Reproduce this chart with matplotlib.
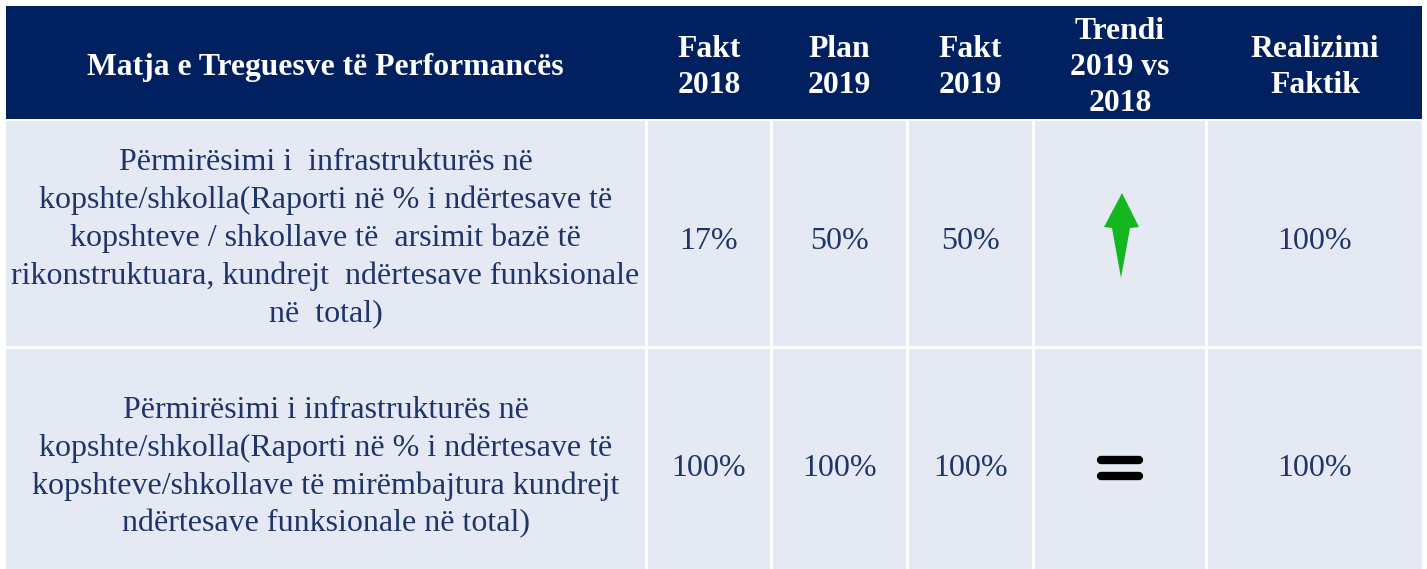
import matplotlib
matplotlib.use("Agg")
import matplotlib.pyplot as plt
from matplotlib.patches import Rectangle, Polygon

# ---- data ----
headers = ["Matja e Treguesve të Performancës", "Fakt\n2018", "Plan\n2019",
           "Fakt\n2019", "Trendi\n2019 vs\n2018", "Realizimi\nFaktik"]
indicators = [
    "Përmirësimi i  infrastrukturës në\nkopshte/shkolla(Raporti në % i ndërtesave të\n"
    "kopshteve / shkollave të  arsimit bazë të\nrikonstruktuara, kundrejt  ndërtesave funksionale\nnë  total)",
    "Përmirësimi i infrastrukturës në\nkopshte/shkolla(Raporti në % i ndërtesave të\n"
    "kopshteve/shkollave të mirëmbajtura kundrejt\nndërtesave funksionale në total)",
]
fakt_2018 = ["17%", "100%"]
plan_2019 = ["50%", "100%"]
fakt_2019 = ["50%", "100%"]
trend = ["up", "equal"]
realizimi = ["100%", "100%"]

# ---- layout ----
W, H = 1427, 569
col_edges = [(6, 645), (648, 770), (773, 906), (909, 1032), (1035, 1205), (1208, 1422)]
header_y = (6, 119)
row_y = [(121, 346), (349, 569)]
row_cy = [238, 467]
val_cy = [241, 468]
HEAD_BG = "#002060"
CELL_BG = "#E5E9F4"
BODY_TXT = "#1F3468"
FONT = "Liberation Serif"

fig = plt.figure(figsize=(W / 100, H / 100), dpi=100)
ax = fig.add_axes([0, 0, 1, 1])
ax.set_xlim(0, W)
ax.set_ylim(H, 0)
ax.axis("off")

# header
ax.add_patch(Rectangle((col_edges[0][0], header_y[0]), col_edges[-1][1] - col_edges[0][0],
                       header_y[1] - header_y[0], color=HEAD_BG, lw=0))
head_line = 36
for (x0, x1), h in zip(col_edges, headers):
    lines = h.split("\n")
    cy = (header_y[0] + header_y[1]) / 2 + 5
    n = len(lines)
    for i, ln in enumerate(lines):
        y = cy + (i - (n - 1) / 2) * head_line
        ax.text((x0 + x1) / 2, y, ln, ha="center", va="center", color="white",
                fontsize=22.8, fontweight="bold", family=FONT)

# body
body_line = 37.75
for r, (y0, y1) in enumerate(row_y):
    for c, (x0, x1) in enumerate(col_edges):
        ax.add_patch(Rectangle((x0, y0), x1 - x0, y1 - y0, color=CELL_BG, lw=0))
    cy = row_cy[r]
    lines = indicators[r].split("\n")
    n = len(lines)
    for i, ln in enumerate(lines):
        y = cy + (i - (n - 1) / 2) * body_line
        ax.text((col_edges[0][0] + col_edges[0][1]) / 2, y, ln, ha="center", va="center",
                color=BODY_TXT, fontsize=23, family=FONT)
    for c, vals in zip([1, 2, 3, 5], [fakt_2018, plan_2019, fakt_2019, realizimi]):
        x0, x1 = col_edges[c]
        ax.text((x0 + x1) / 2, val_cy[r], vals[r], ha="center", va="center",
                color=BODY_TXT, fontsize=23, family=FONT)
    tx = (col_edges[4][0] + col_edges[4][1]) / 2
    if trend[r] == "up":
        pts = [(tx + 2, cy - 45), (tx + 19, cy - 11), (tx + 10, cy - 10),
               (tx + 1, cy + 40), (tx - 8, cy - 10), (tx - 16, cy - 11)]
        ax.add_patch(Polygon(pts, closed=True, color="#14B81E", lw=0))
    else:
        for yy in (460, 476):
            ax.plot([tx - 19, tx + 19], [yy, yy], color="black",
                    lw=6, solid_capstyle="round")

fig.savefig("out.png", dpi=100)
